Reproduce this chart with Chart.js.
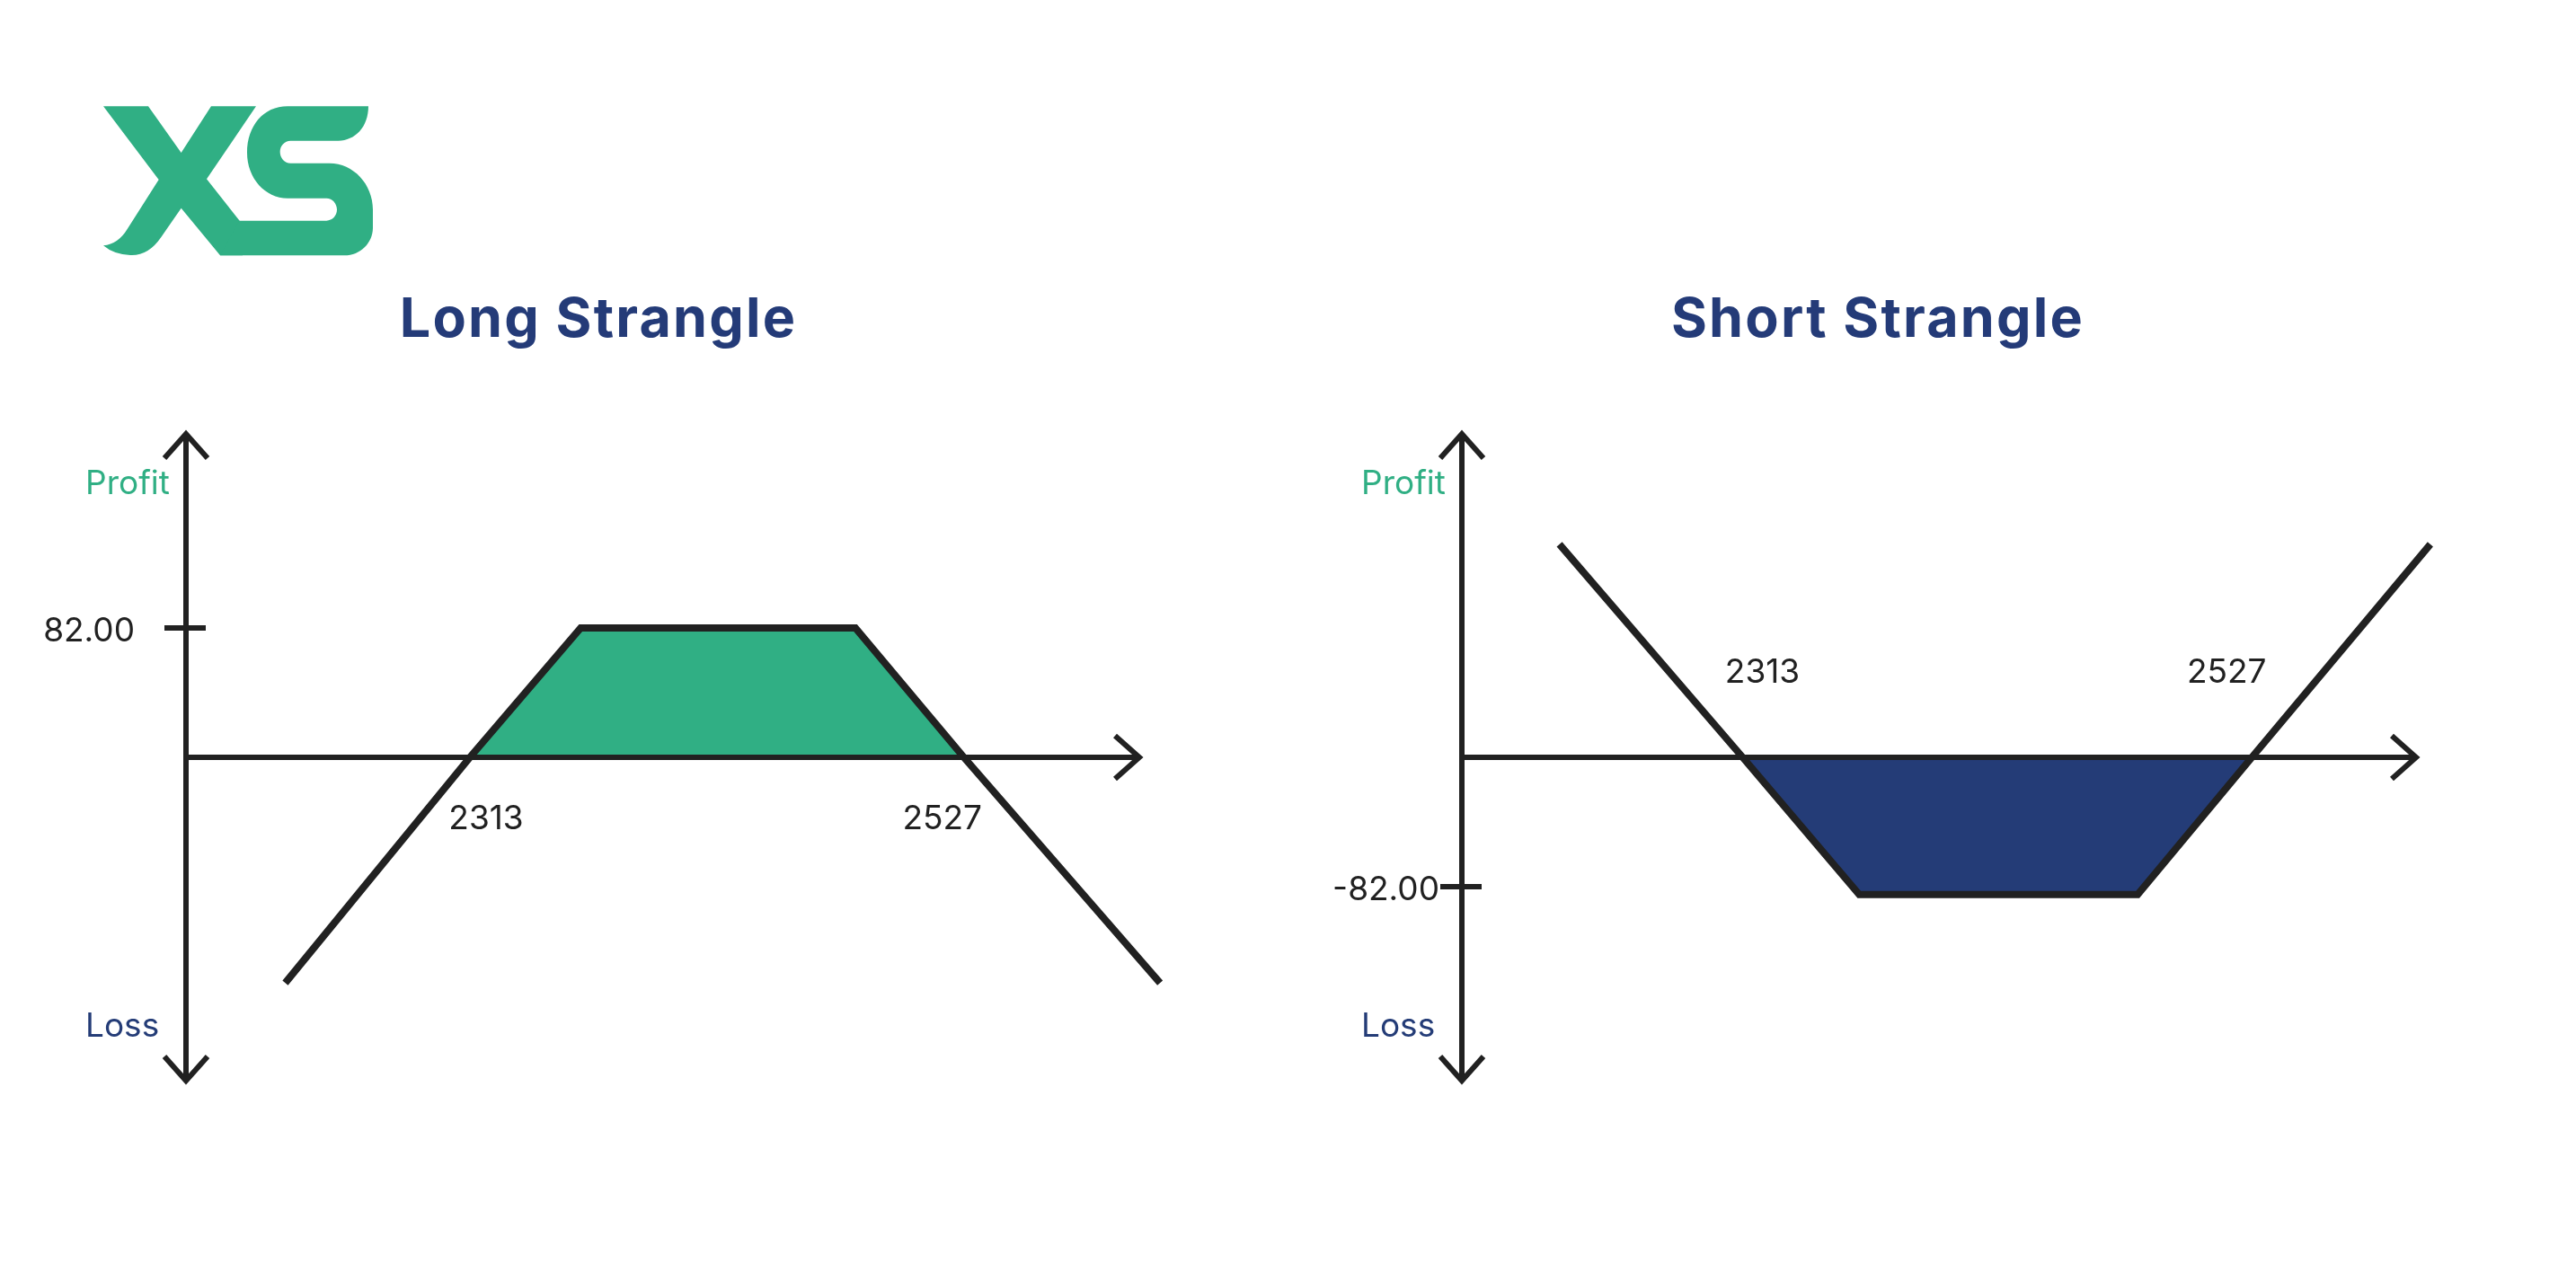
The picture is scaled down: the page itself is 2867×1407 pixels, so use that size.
<!DOCTYPE html>
<html>
<head>
<meta charset="utf-8">
<title>Long Strangle / Short Strangle</title>
<script src="https://cdn.jsdelivr.net/npm/chart.js@4.4.1/dist/chart.umd.min.js"></script>
<style>
  html, body { margin: 0; padding: 0; background: #fff; }
  body { width: 2867px; height: 1407px; position: relative; overflow: hidden; font-family: Inter, 'Noto Sans', sans-serif; }
  .logo { position: absolute; left: 90px; top: 100px; width: 350px; height: 200px; }
  .title { position: absolute; top: 323px; font-size: 61px; line-height: 60px; font-weight: 700; letter-spacing: 2.2px; color: #243b78; white-space: nowrap; transform: translateX(-50%); }
  .wrap { position: absolute; top: 0; height: 1407px; }
</style>
</head>
<body>
<svg class="logo" viewBox="0 0 1050 600" xmlns="http://www.w3.org/2000/svg">
  <path fill="#30af84" d="M75,55 L225,55 L335,210 L435,55 L585,55 L420,298 L540,450 L540,553 L465,553 L335,395 L268,492 Q225,555 165,552 Q110,550 75,520 Q125,515 155,465 L260,300 Z"/>
  <path fill="#30af84" d="M960,55 L690,55 C610,55 555,120 555,210 C555,295 615,362 690,362 L820,362 C840,362 855,380 855,400 C855,420 840,437 820,437 L528,437 L465,553 L880,553 C935,553 975,510 975,460 L975,400 C975,315 910,245 830,245 L700,245 C680,245 665,228 665,207 C665,187 680,170 700,170 L860,170 C915,170 960,125 960,55 Z"/>
</svg>
<div class="title" id="t0" style="left:666px"></div>
<div class="title" id="t1" style="left:2090px"></div>
<div class="wrap" style="left:0; width:1434px"><canvas id="longChart"></canvas></div>
<div class="wrap" style="left:1434px; width:1433px"><canvas id="shortChart"></canvas></div>
<script>
// payoff data (price, profit)
const longX = [2233, 2313, 2361, 2480, 2527, 2612];
const longY = [-143, 0, 82, 82, 0, -143];
const shortX = [2236, 2313, 2362, 2479, 2527, 2602];
const shortY = [135, 0, -87, -87, 0, 135];
const breakevens = [2313, 2527];
const longTick = 82;
const shortTick = -82;
const longXRange = [2190, 2603];
const shortXRange = [2195, 2596];
const yRange = [-205, 205];
const axisNames = ['Profit', 'Loss'];
const titles = ['Long Strangle', 'Short Strangle'];

const INK = '#212121';
const GREEN = '#30af84';
const NAVY = '#243c77';
const FONT = "37px Inter, 'Noto Sans', sans-serif";

document.getElementById('t0').textContent = titles[0];
document.getElementById('t1').textContent = titles[1];

function chevron(ctx, tx, ty, dx, dy) {
  // arms go back along (dx,dy) by 27px and out 24px to each side
  const px = -dy, py = dx;
  ctx.beginPath();
  ctx.moveTo(tx - dx * 27 + px * 24, ty - dy * 27 + py * 24);
  ctx.lineTo(tx, ty);
  ctx.lineTo(tx - dx * 27 - px * 24, ty - dy * 27 - py * 24);
  ctx.stroke();
}

const strangleDecor = {
  id: 'strangleDecor',
  afterDatasetsDraw(chart, args, opts) {
    const { ctx, chartArea: a, scales: { x, y } } = chart;
    const y0 = y.getPixelForValue(0);
    ctx.save();
    ctx.strokeStyle = INK;
    ctx.lineWidth = 6;
    ctx.lineCap = 'butt';
    ctx.lineJoin = 'miter';

    ctx.beginPath();
    ctx.moveTo(a.left, a.top);
    ctx.lineTo(a.left, a.bottom);
    ctx.moveTo(a.left, y0);
    ctx.lineTo(a.right, y0);
    ctx.stroke();
    chevron(ctx, a.left, a.top, 0, -1);
    chevron(ctx, a.left, a.bottom, 0, 1);
    chevron(ctx, a.right, y0, 1, 0);

    // the single y tick
    const ty = y.getPixelForValue(opts.tick);
    ctx.beginPath();
    ctx.moveTo(a.left - 24, ty);
    ctx.lineTo(a.left + 22, ty);
    ctx.stroke();

    ctx.font = FONT;
    ctx.fillStyle = INK;
    ctx.textAlign = 'right';
    ctx.textBaseline = 'middle';
    ctx.fillText(opts.tick.toFixed(2), a.left - opts.tickGap, ty + 4);

    // break-even labels, nudged inward
    ctx.textAlign = 'center';
    ctx.textBaseline = 'alphabetic';
    breakevens.forEach((b, i) => {
      const bx = x.getPixelForValue(b) + (i === 0 ? opts.beShift : -opts.beShift - 6);
      ctx.fillText(String(b), bx, y0 + opts.beOffset);
    });

    ctx.textAlign = 'left';
    ctx.fillStyle = GREEN;
    ctx.fillText(axisNames[0], a.left - 112, a.top + 67);
    ctx.fillStyle = NAVY;
    ctx.fillText(axisNames[1], a.left - 112, a.bottom - 49);
    ctx.restore();
  }
};

function makeChart(id, xs, ys, xRange, fill, padding, decor) {
  return new Chart(document.getElementById(id), {
    type: 'line',
    data: {
      datasets: [{
        data: xs.map((v, i) => ({ x: v, y: ys[i] })),
        borderColor: INK,
        borderWidth: 8,
        borderJoinStyle: 'miter',
        borderCapStyle: 'butt',
        pointRadius: 0,
        tension: 0,
        clip: false,
        fill: fill,
      }],
    },
    options: {
      responsive: true,
      maintainAspectRatio: false,
      animation: false,
      events: [],
      layout: { padding: padding },
      scales: {
        x: { type: 'linear', display: false, min: xRange[0], max: xRange[1] },
        y: { display: false, min: yRange[0], max: yRange[1] },
      },
      plugins: {
        legend: { display: false },
        tooltip: { enabled: false },
        strangleDecor: decor,
      },
    },
    plugins: [strangleDecor],
  });
}

makeChart('longChart', longX, longY, longXRange,
  { target: 'origin', above: GREEN, below: 'rgba(0,0,0,0)' },
  { left: 207, right: 166, top: 483, bottom: 204 },
  { tick: longTick, tickGap: 57, beShift: 18, beOffset: 80 });

makeChart('shortChart', shortX, shortY, shortXRange,
  { target: 'origin', above: 'rgba(0,0,0,0)', below: NAVY },
  { left: 193, right: 178, top: 483, bottom: 204 },
  { tick: shortTick, tickGap: 25, beShift: 22, beOffset: -83 });
</script>
</body>
</html>
